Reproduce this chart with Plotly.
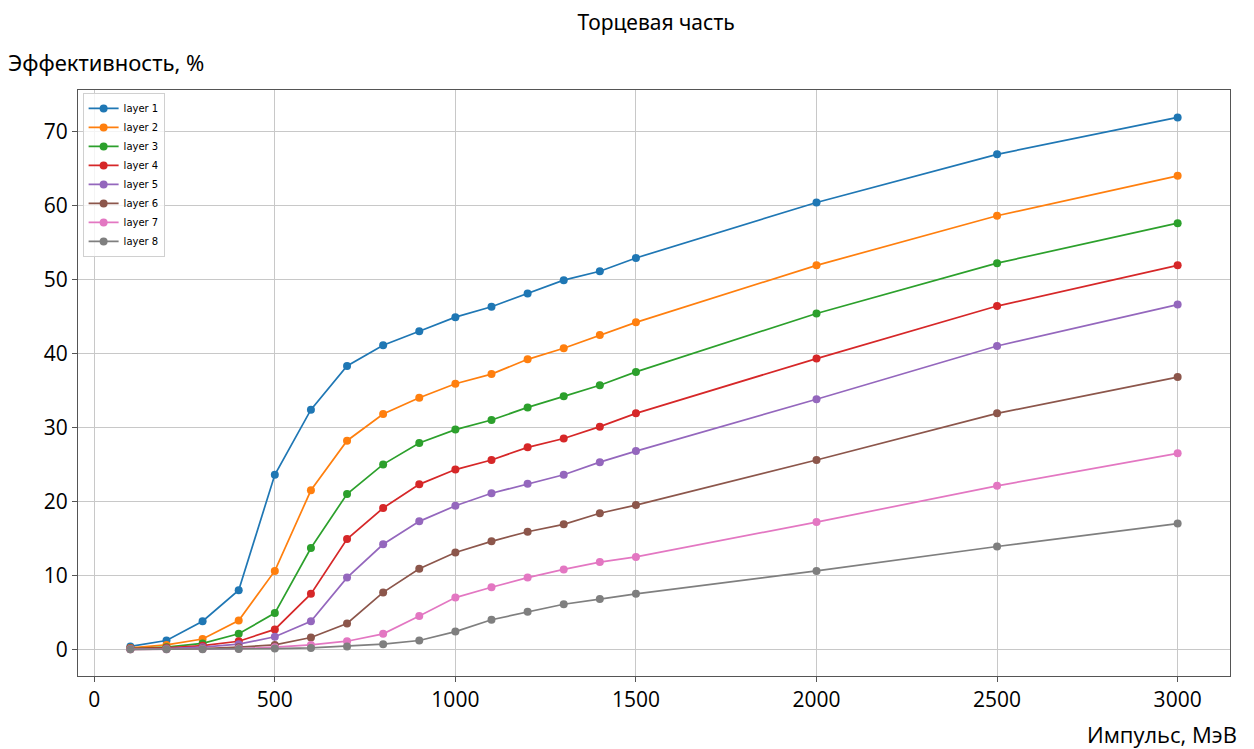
import plotly.graph_objects as go

momentum = [100, 200, 300, 400, 500, 600, 700, 800, 900, 1000, 1100, 1200, 1300, 1400, 1500, 2000, 2500, 3000]

layer1 = [0.4, 1.2, 3.8, 8.0, 23.6, 32.4, 38.3, 41.1, 43.0, 44.9, 46.3, 48.1, 49.9, 51.1, 52.9, 60.4, 66.9, 71.9]
layer2 = [0.2, 0.6, 1.4, 3.9, 10.6, 21.5, 28.2, 31.8, 34.0, 35.9, 37.2, 39.2, 40.7, 42.5, 44.2, 51.9, 58.6, 64.0]
layer3 = [0.1, 0.3, 0.8, 2.1, 4.9, 13.7, 21.0, 25.0, 27.9, 29.7, 31.0, 32.7, 34.2, 35.7, 37.5, 45.4, 52.2, 57.6]
layer4 = [0.1, 0.2, 0.5, 1.1, 2.7, 7.5, 14.9, 19.1, 22.3, 24.3, 25.6, 27.3, 28.5, 30.1, 31.9, 39.3, 46.4, 51.9]
layer5 = [0.05, 0.1, 0.3, 0.7, 1.7, 3.8, 9.7, 14.2, 17.3, 19.4, 21.1, 22.4, 23.6, 25.3, 26.8, 33.8, 41.0, 46.6]
layer6 = [0.0, 0.05, 0.1, 0.3, 0.6, 1.6, 3.5, 7.7, 10.9, 13.1, 14.6, 15.9, 16.9, 18.4, 19.5, 25.6, 31.9, 36.8]
layer7 = [0.0, 0.02, 0.05, 0.1, 0.3, 0.6, 1.1, 2.1, 4.5, 7.0, 8.4, 9.7, 10.8, 11.8, 12.5, 17.2, 22.1, 26.5]
layer8 = [0.0, 0.0, 0.02, 0.05, 0.1, 0.2, 0.4, 0.7, 1.2, 2.4, 4.0, 5.1, 6.1, 6.8, 7.5, 10.6, 13.9, 17.0]

names = ["layer 1", "layer 2", "layer 3", "layer 4", "layer 5", "layer 6", "layer 7", "layer 8"]
series = [layer1, layer2, layer3, layer4, layer5, layer6, layer7, layer8]
colors = ["#1f77b4", "#ff7f0e", "#2ca02c", "#d62728", "#9467bd", "#8c564b", "#e377c2", "#7f7f7f"]

x_ticks = [0, 500, 1000, 1500, 2000, 2500, 3000]
y_ticks = [0, 10, 20, 30, 40, 50, 60, 70]

fig = go.Figure()
for name, ys, c in zip(names, series, colors):
    fig.add_trace(go.Scatter(
        x=momentum, y=ys, name=name, mode="lines+markers",
        line=dict(color=c, width=1.7),
        marker=dict(color=c, size=8, symbol="circle"),
    ))

# page has an 8px body margin: compensate so the plot lands where the reference has it
OFF = 8
W, H = 1254 - OFF, 749 - OFF
L, R, T, B = 78 - OFF, 1230 - OFF, 90 - OFF, 676 - OFF

fig.update_layout(
    width=W, height=H,
    margin=dict(l=L, r=W - R, t=T, b=H - B),
    paper_bgcolor="white", plot_bgcolor="white",
    font=dict(family="Open Sans", color="black"),
    title=dict(text="Торцевая часть", x=(656 - OFF) / W, xanchor="center",
               y=1 - (23 - OFF) / H, yanchor="middle", font=dict(size=21, family="Noto Sans")),
    showlegend=True,
    legend=dict(x=0.004, y=0.995, xanchor="left", yanchor="top",
                bgcolor="rgba(255,255,255,0.8)", bordercolor="#d0d0d0", borderwidth=1,
                font=dict(size=10, family="DejaVu Sans"), tracegroupgap=0,
                itemwidth=30),
    xaxis=dict(range=[-45, 3145], tickvals=x_ticks, ticktext=[str(v) for v in x_ticks],
               showgrid=True, gridcolor="#c8c8c8", gridwidth=1, zeroline=False,
               showline=True, linecolor="#555555", linewidth=1.2, mirror=True,
               ticks="outside", ticklen=5, tickcolor="#555555",
               tickfont=dict(size=21, family="Open Sans")),
    yaxis=dict(range=[-3.6, 75.6], tickvals=y_ticks, ticktext=[str(v) for v in y_ticks],
               showgrid=True, gridcolor="#c8c8c8", gridwidth=1, zeroline=False,
               showline=True, linecolor="#555555", linewidth=1.2, mirror=True,
               ticks="outside", ticklen=5, tickcolor="#555555",
               tickfont=dict(size=21, family="Open Sans")),
    annotations=[
        dict(text="Эффективность, %", xref="paper", yref="paper",
             x=(6 - 78) / (1230 - 78), y=(676 - 62) / (676 - 90), xanchor="left", yanchor="middle",
             showarrow=False, font=dict(size=22, family="Noto Sans")),
        dict(text="Импульс, МэВ", xref="paper", yref="paper",
             x=(1239 - 78) / (1230 - 78), y=(676 - 734) / (676 - 90), xanchor="right", yanchor="middle",
             showarrow=False, font=dict(size=22, family="Open Sans")),
    ],
)

fig.write_html("out.html")
